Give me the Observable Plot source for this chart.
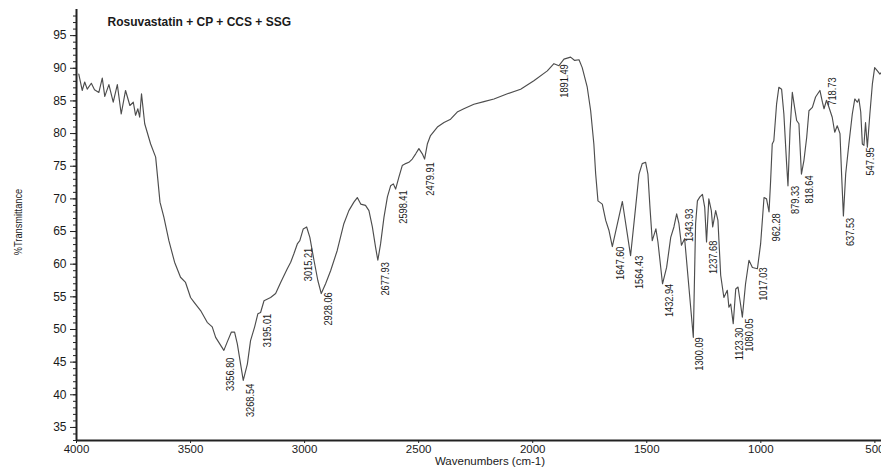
<!DOCTYPE html>
<html>
<head>
<meta charset="utf-8">
<script src="https://cdn.jsdelivr.net/npm/d3@7"></script>
<script src="https://cdn.jsdelivr.net/npm/@observablehq/plot@0.6"></script>
<style>
  html, body { margin: 0; padding: 0; background: #fff; }
  #chart { width: 881px; height: 467px; overflow: hidden; }
</style>
</head>
<body>
<div id="chart"></div>
<script>
const title = "Rosuvastatin + CP + CCS + SSG";
const xLabel = "Wavenumbers (cm-1)";
const yLabel = "%Transmittance";

const wavenumber = [
  3990, 3975, 3964, 3953, 3935, 3921, 3902, 3887, 3876, 3858,
  3839, 3821, 3804, 3785, 3766, 3751, 3741, 3731, 3723, 3715,
  3701, 3675, 3653, 3643, 3634, 3617, 3595, 3570, 3544, 3522,
  3500, 3485, 3456, 3427, 3405, 3390, 3354, 3339, 3321, 3307,
  3295, 3269, 3251, 3237, 3219, 3205, 3193, 3178, 3149, 3127,
  3105, 3076, 3061, 3047, 3032, 3021, 3006, 2991, 2977, 2959,
  2942, 2927, 2908, 2886, 2857, 2828, 2806, 2784, 2769, 2754,
  2733, 2718, 2703, 2689, 2679, 2667, 2652, 2637, 2623, 2611,
  2601, 2587, 2572, 2557, 2543, 2528, 2513, 2499, 2484, 2474,
  2462, 2448, 2418, 2389, 2360, 2331, 2302, 2258, 2214, 2170,
  2111, 2053, 1995, 1936, 1907, 1885, 1863, 1834, 1816, 1797,
  1783, 1761, 1746, 1732, 1724, 1714, 1695, 1680, 1666, 1651,
  1607, 1571, 1549, 1534, 1520, 1505, 1495, 1486, 1476, 1460,
  1451, 1431, 1413, 1395, 1381, 1369, 1359, 1348, 1334, 1296,
  1286, 1278, 1267, 1256, 1246, 1238, 1228, 1217, 1211, 1198,
  1188, 1176, 1162, 1147, 1140, 1132, 1121, 1110, 1100, 1089,
  1081, 1067, 1052, 1037, 1015, 1001, 986, 975, 964, 957,
  950, 943, 931, 921, 909, 899, 887, 881, 872, 862,
  852, 843, 833, 822, 811, 799, 789, 774, 760, 741,
  730, 723, 712, 701, 687, 676, 665, 653, 646, 638,
  628, 614, 599, 588, 577, 570, 562, 555, 548, 541,
  533, 522, 511, 501, 489, 478, 471
];

const transmittance = [
  89.1, 86.6, 87.9, 86.8, 87.7, 86.7, 86.3, 88.5, 85.7, 87.5,
  84.8, 87.5, 83.0, 86.6, 84.3, 84.8, 82.8, 83.8, 82.5, 86.1,
  81.5, 78.4, 76.4, 72.8, 69.5, 67.2, 63.6, 60.3, 58.0, 57.2,
  54.9, 54.2, 52.9, 51.1, 50.4, 48.8, 46.8, 48.1, 49.6, 49.6,
  47.8, 42.2, 44.7, 48.3, 50.4, 52.4, 52.6, 54.4, 54.9, 55.5,
  57.2, 59.3, 60.3, 61.6, 63.1, 63.6, 65.4, 65.7, 64.1, 60.6,
  57.5, 55.5, 57.0, 59.0, 62.1, 66.2, 68.2, 69.5, 70.2, 69.2,
  69.0, 68.2, 65.7, 62.6, 60.6, 63.1, 67.2, 70.3, 72.0, 72.3,
  71.5, 73.3, 75.1, 75.4, 75.6, 76.1, 76.9, 77.7, 76.9, 76.1,
  78.4, 79.7, 81.0, 81.7, 82.2, 83.3, 83.8, 84.5, 84.9, 85.3,
  86.1, 86.8, 88.1, 89.6, 90.7, 90.4, 91.4, 91.7, 91.2, 91.3,
  90.1, 87.1, 83.5, 78.4, 73.8, 69.7, 69.2, 66.7, 65.2, 62.7,
  69.6, 61.3, 68.7, 73.8, 75.4, 75.6, 73.8, 68.7, 63.6, 65.4,
  63.4, 57.0, 59.5, 64.1, 65.7, 67.7, 66.2, 62.9, 63.9, 48.8,
  66.2, 69.7, 70.3, 70.7, 68.7, 63.4, 70.0, 68.2, 65.7, 68.2,
  66.7, 58.3, 54.9, 56.0, 53.4, 53.9, 50.9, 56.2, 56.5, 53.9,
  51.9, 57.0, 60.6, 59.5, 59.3, 63.1, 70.2, 70.0, 68.0, 72.8,
  78.4, 78.9, 84.5, 87.1, 86.8, 83.0, 75.4, 72.0, 80.5, 86.3,
  84.0, 82.0, 81.5, 73.8, 75.9, 79.4, 83.5, 84.0, 85.6, 86.6,
  84.8, 83.8, 85.1, 84.0, 82.5, 80.2, 81.2, 80.0, 73.8, 67.4,
  73.8, 78.4, 83.0, 85.3, 84.8, 85.3, 83.3, 78.4, 78.2, 81.7,
  77.9, 83.0, 87.6, 90.1, 89.6, 89.1, 89.4
];

// Peak annotations: labelled wavenumber, text, and transmittance where the label starts
const peakWavenumber = [3356.80, 3268.54, 3195.01, 3015.21, 2928.06, 2677.93, 2598.41, 2479.91,
  1891.49, 1647.60, 1564.43, 1432.94, 1343.93, 1300.09, 1237.68, 1123.30, 1080.05, 1017.03,
  962.28, 879.33, 818.64, 718.73, 637.53, 547.95];
const peakText = ["3356.80", "3268.54", "3195.01", "3015.21", "2928.06", "2677.93", "2598.41", "2479.91",
  "1891.49", "1647.60", "1564.43", "1432.94", "1343.93", "1300.09", "1237.68", "1123.30", "1080.05", "1017.03",
  "962.28", "879.33", "818.64", "718.73", "637.53", "547.95"];
const peakLabelT = [45.7, 41.7, 52.4, 62.5, 55.7, 60.3, 71.3, 75.6,
  90.6, 62.7, 61.3, 57.0, 68.5, 48.8, 63.6, 50.3, 51.7, 59.5,
  67.8, 72.0, 73.6, 88.6, 67.1, 77.9];

const xTicks = [4000, 3500, 3000, 2500, 2000, 1500, 1000, 500];
const yTicks = [35, 40, 45, 50, 55, 60, 65, 70, 75, 80, 85, 90, 95];
const yMinorTicks = d3.range(33, 99, 1);
const xDomain = [4000, 471];
const yDomain = [33, 99];

const spectrum = wavenumber.map((w, i) => ({w, t: transmittance[i]}));
const peaks = peakWavenumber.map((w, i) => ({w, t: peakLabelT[i], label: peakText[i]}));

const sans = "'Liberation Sans', Arial, sans-serif";

const chart = Plot.plot({
  width: 881,
  height: 467,
  marginLeft: 76,
  marginRight: 0,
  marginTop: 9,
  marginBottom: 27,
  style: {fontFamily: sans, background: "#fff", color: "#1a1a1a", overflow: "hidden"},
  x: {domain: xDomain},
  y: {domain: yDomain},
  marks: [
    Plot.axisY({ticks: yMinorTicks, tickSize: 3, text: null, label: null, stroke: "#222"}),
    Plot.axisY({ticks: yTicks, tickSize: 6, tickPadding: 4, fontSize: 12, label: null, stroke: "#222", fill: "#1a1a1a"}),
    Plot.axisX({ticks: xTicks, tickFormat: d => String(d), tickSize: 3, tickPadding: 1, fontSize: 11.5, label: null, stroke: "#222", fill: "#1a1a1a"}),
    Plot.ruleX([xDomain[0]], {stroke: "#222", strokeWidth: 2}),
    Plot.ruleY([yDomain[0]], {stroke: "#222", strokeWidth: 2}),
    Plot.line(spectrum, {x: "w", y: "t", stroke: "#4d4d4d", strokeWidth: 1.15, curve: "linear"}),
    Plot.text(peaks, {x: "w", y: "t", text: "label", rotate: -90, textAnchor: "end", lineAnchor: "middle",
      dx: 7, fontSize: 11, fill: "#1a1a1a"}),
    Plot.text([title], {frameAnchor: "top-left", text: d => d, textAnchor: "start", lineAnchor: "middle",
      dx: 31, dy: 13, fontSize: 12, fontWeight: "bold", fill: "#1a1a1a"}),
    Plot.text([yLabel], {frameAnchor: "left", text: d => d, rotate: -90, textAnchor: "middle", lineAnchor: "middle",
      dx: -58, dy: -3, fontSize: 11, fill: "#1a1a1a"}),
    Plot.text([xLabel], {frameAnchor: "bottom", text: d => d, textAnchor: "middle", lineAnchor: "middle",
      dx: 11, dy: 21, fontSize: 11.5, fill: "#1a1a1a"})
  ]
});

// Condense the rotated labels (the original uses a narrow typeface)
const textGroups = chart.querySelectorAll('g[aria-label="text"]');
[0, 2].forEach(k => {
  const g = textGroups[k];
  if (!g) return;
  g.querySelectorAll("text").forEach(t => {
    t.setAttribute("transform", (t.getAttribute("transform") || "") + " scale(0.84,1)");
  });
});

document.getElementById("chart").appendChild(chart);
</script>
</body>
</html>
